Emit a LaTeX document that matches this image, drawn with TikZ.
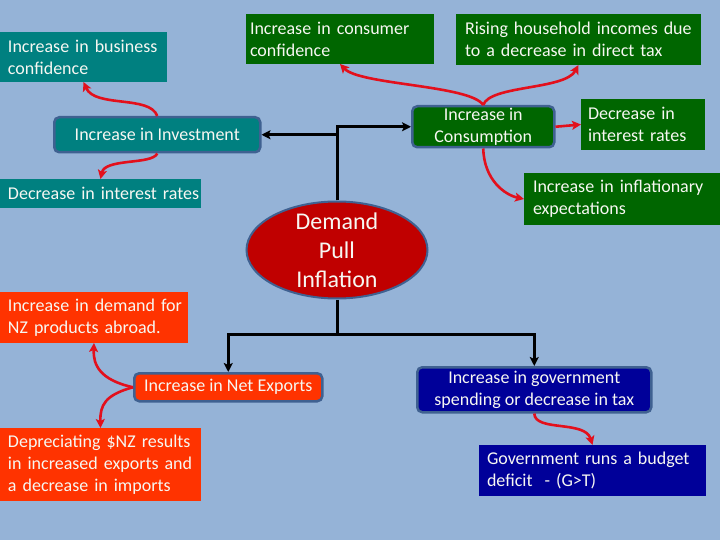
\documentclass[tikz,border=0pt]{standalone}
\usepackage{fontspec}
\setmainfont{Carlito}
\usetikzlibrary{arrows.meta,shapes.geometric}
\definecolor{bgblue}{HTML}{95B3D7}
\definecolor{tealbox}{HTML}{008080}
\definecolor{greenbox}{HTML}{006600}
\definecolor{orangebox}{HTML}{FF3300}
\definecolor{navybox}{HTML}{000099}
\definecolor{ellred}{HTML}{C00000}
\definecolor{edgeblue}{HTML}{3F6191}
\definecolor{arrowred}{HTML}{E3101C}
\definecolor{txt}{HTML}{F7F7F2}
\tikzset{
  bodyfont/.style={font=\fontsize{18}{22}\selectfont},
  lbox/.style={rectangle, bodyfont, text=txt, anchor=north west, align=left, inner ysep=0pt, outer sep=0pt},
  rbox/.style={rectangle, bodyfont, text=txt, anchor=north west, align=center, inner sep=0pt,
               rounded corners=5pt, draw=edgeblue, line width=2.5pt},
  dpiell/.style={ellipse, fill=ellred, draw=edgeblue, line width=2pt, minimum width=181pt, minimum height=97pt, inner sep=0pt},
  dpitext/.style={font=\fontsize{24}{29}\selectfont, text=txt, align=center, inner sep=0pt},
  redarr/.style={draw=arrowred, line width=2.6pt, -{Stealth[length=9pt,width=9pt,inset=2pt]}},
  blkarr/.style={draw=black, line width=3pt, -{Stealth[length=9pt,width=9pt,inset=2pt]}}
}
\begin{document}
\begin{tikzpicture}[x=1pt,y=-1pt]
\useasboundingbox (0,0) rectangle (720,540);
\fill[bgblue] (0,0) rectangle (720,540);

% plain boxes
\node[lbox, fill=tealbox, minimum width=167pt, minimum height=50pt, inner xsep=8pt, text width=151pt] (biz) at (0,32) {\mbox{Increase in business}\\\mbox{confidence}};
\node[lbox, fill=greenbox, minimum width=188pt, minimum height=50pt, inner xsep=4pt, text width=180pt] (consconf) at (246,14) {\mbox{Increase in consumer}\\\mbox{confidence}};
\node[lbox, fill=greenbox, minimum width=245pt, minimum height=51pt, inner xsep=9pt, text width=227pt] (rising) at (456,14) {\mbox{Rising household incomes due}\\\mbox{to a decrease in direct tax}};
\node[lbox, fill=greenbox, minimum width=124pt, minimum height=51pt, inner xsep=7pt, text width=110pt] (decR) at (581,99) {\mbox{Decrease in}\\\mbox{interest rates}};
\node[lbox, fill=tealbox, minimum width=201pt, minimum height=29pt, inner xsep=8pt, text width=185pt] (decL) at (0,179) {\mbox{Decrease in interest rates}};
\node[lbox, fill=greenbox, minimum width=196pt, minimum height=52pt, inner xsep=9pt, text width=178pt] (infl) at (524,173) {\mbox{Increase in inflationary}\\\mbox{expectations}};
\node[lbox, fill=orangebox, minimum width=188pt, minimum height=51pt, inner xsep=8pt, text width=172pt] (demNZ) at (0,292) {\mbox{Increase in demand for}\\\mbox{NZ products abroad.}};
\node[lbox, fill=orangebox, minimum width=201pt, minimum height=73pt, inner xsep=8pt, text width=185pt] (dep) at (0,428) {\mbox{Depreciating \$NZ results}\\\mbox{in increased exports and}\\\mbox{a decrease in imports}};
\node[lbox, fill=navybox, minimum width=227pt, minimum height=51pt, inner xsep=8pt, text width=211pt] (deficit) at (479,445) {\mbox{Government runs a budget}\\\mbox{deficit~ - (G>T)}};

% rounded boxes
\node[rbox, fill=tealbox, minimum width=206pt, minimum height=35pt] (inv) at (53,116) {Increase in Investment};
\node[rbox, fill=greenbox, minimum width=142pt, minimum height=41pt] (cons) at (411,105) {Increase in\\Consumption};
\node[rbox, fill=orangebox, minimum width=188pt, minimum height=28pt] (netexp) at (133,372) {Increase in Net Exports};
\node[rbox, fill=navybox, minimum width=234pt, minimum height=45pt] (gov) at (416,366) {Increase in government\\spending or decrease in tax};

% ellipse
\node[dpiell] (dpi) at (337,250) {};
\node[dpitext] (dpit) at (dpi.center) {Demand\\Pull\\Inflation};

% black connectors
\coordinate (jt) at (dpi.north |- cons.west);
\coordinate (ji) at (dpi.north |- inv.east);
\coordinate (jb) at (337,334);
\draw[blkarr] (dpi.north) -- (jt) -- (cons.west);
\draw[blkarr] (ji) -- (inv.east);
\draw[blkarr] (dpi.south) -- (jb) -| (netexp.north);
\draw[blkarr] (jb) -| (gov.north);

% red connectors
\draw[redarr] (inv.north) .. controls (150,95) and (95,108) .. (biz.south);
\draw[redarr] (inv.south) .. controls (152,165) and (105,158) .. (decL.north);
\draw[redarr] (cons.north) .. controls (470,85) and (360,85) .. (consconf.south);
\draw[redarr] (cons.north) .. controls (490,85) and (565,90) .. (rising.south);
\draw[redarr] (cons.east) -- (decR.west);
\draw[redarr] (cons.south) .. controls (484,180) and (505,195) .. (infl.west);
\draw[redarr] (netexp.west) .. controls (100,380) and (93,365) .. (demNZ.south);
\draw[redarr] (netexp.west) .. controls (105,395) and (100,405) .. (dep.north);
\draw[redarr] (gov.south) .. controls (535,432) and (585,420) .. (deficit.north);
\end{tikzpicture}
\end{document}
